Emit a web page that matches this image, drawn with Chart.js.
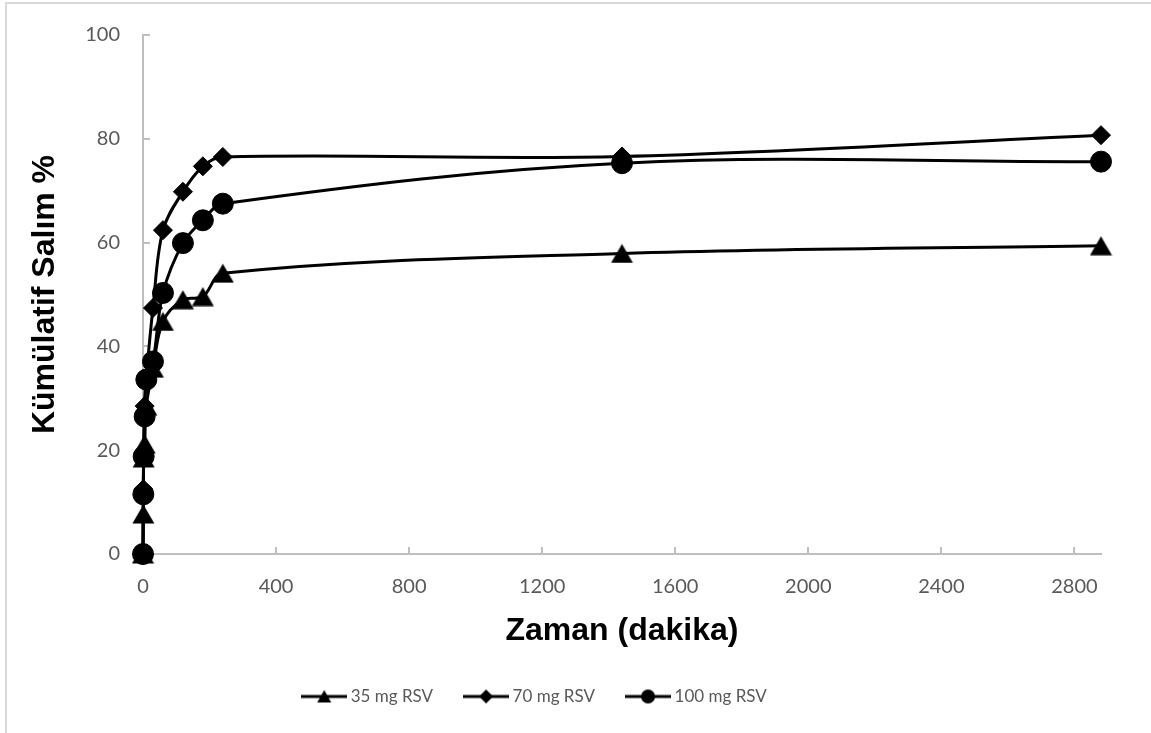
<!DOCTYPE html>
<html>
<head>
<meta charset="utf-8">
<script src="https://cdn.jsdelivr.net/npm/chart.js@4/dist/chart.umd.min.js"></script>
<style>
html,body{margin:0;padding:0;background:#fff;overflow:hidden}
#wrap{position:relative;width:1151px;height:733px}
</style>
</head>
<body>
<div id="wrap"><canvas id="c" width="1151" height="733"></canvas></div>
<script>
// ---- data ----
const times  = [0, 1, 2, 5, 10, 30, 60, 120, 180, 240, 1440, 2880];
const rsv35  = [0, 7.7, 18.5, 21.2, 28.5, 35.8, 44.8, 49.0, 49.6, 54.1, 57.9, 59.4];
const rsv70  = [0, 12.5, 19.5, 28.5, 34.0, 47.4, 62.4, 69.8, 74.7, 76.5, 76.6, 80.7];
const rsv100 = [0, 11.5, 18.8, 26.5, 33.6, 37.1, 50.3, 59.9, 64.3, 67.5, 75.3, 75.6];
const seriesNames = ['35 mg RSV', '70 mg RSV', '100 mg RSV'];
const xTickValues = [0, 400, 800, 1200, 1600, 2000, 2400, 2800];
const yTickValues = [0, 20, 40, 60, 80, 100];
const xTitle = 'Zaman (dakika)';
const yTitle = 'Kümülatif Salım %';
const xRange = [0, 2880];
const yRange = [0, 100];

const tickFont = "Lato";
const titleFont = "'Liberation Sans', Arial, sans-serif";
const gray = '#595959';
const axisGray = '#bfbfbf';

function pts(ys){ return times.map((t,i)=>({x:t, y:ys[i]})); }

// triangle marker centred in its box (like Excel)
function triCanvas(w, h){
  const c = document.createElement('canvas');
  c.width = w; c.height = h;
  const g = c.getContext('2d');
  g.fillStyle = '#000';
  g.beginPath();
  g.moveTo(w/2, 0.5); g.lineTo(w-0.5, h-0.5); g.lineTo(0.5, h-0.5); g.closePath();
  g.fill();
  return c;
}
const triMarker = triCanvas(23, 20);

function legendIcon(kind){
  const W = 46, H = 16;
  const c = document.createElement('canvas');
  c.width = W; c.height = H;
  const g = c.getContext('2d');
  g.strokeStyle = '#000'; g.fillStyle = '#000'; g.lineWidth = 3;
  g.beginPath(); g.moveTo(0, H/2); g.lineTo(W, H/2); g.stroke();
  const cx = W/2, cy = H/2;
  g.beginPath();
  if (kind === 'tri'){
    g.moveTo(cx, cy-6.5); g.lineTo(cx+7, cy+6); g.lineTo(cx-7, cy+6); g.closePath();
  } else if (kind === 'dia'){
    g.moveTo(cx, cy-7); g.lineTo(cx+7, cy); g.lineTo(cx, cy+7); g.lineTo(cx-7, cy); g.closePath();
  } else {
    g.arc(cx, cy, 7, 0, Math.PI*2);
  }
  g.fill();
  return c;
}
const legendIcons = [legendIcon('tri'), legendIcon('dia'), legendIcon('circ')];

const frame = {
  id: 'frame',
  beforeDraw(chart){
    const ctx = chart.ctx;
    ctx.save();
    ctx.fillStyle = '#fff';
    ctx.fillRect(0, 0, chart.width, chart.height);
    ctx.fillStyle = '#d9d9d9';
    ctx.fillRect(5, 2, chart.width - 5, 2);
    ctx.fillRect(5, 2, 2, chart.height - 2);
    ctx.restore();
  },
  afterLayout(chart){
    const d = -17;
    chart.legend.left += d; chart.legend.right += d;
  },
  beforeDatasetsDraw(chart){
    const {ctx, chartArea: a, scales: {x, y}} = chart;
    ctx.save();
    ctx.strokeStyle = axisGray; ctx.lineWidth = 2;
    ctx.beginPath();
    y.ticks.forEach(t => {
      if (t.value === yRange[0]) return;
      const py = Math.round(y.getPixelForValue(t.value));
      ctx.moveTo(a.left, py); ctx.lineTo(a.left + 7, py);
    });
    x.ticks.forEach(t => {
      if (t.value === xRange[0]) return;
      const px = Math.round(x.getPixelForValue(t.value));
      ctx.moveTo(px, a.bottom); ctx.lineTo(px, a.bottom - 7);
    });
    ctx.stroke();
    ctx.restore();
  }
};

const common = {
  borderColor: '#000', backgroundColor: '#000', borderWidth: 3,
  pointBorderColor: '#000', pointBackgroundColor: '#000', pointBorderWidth: 1,
  tension: 0.35, clip: false, fill: false
};

new Chart(document.getElementById('c'), {
  type: 'line',
  data: {
    datasets: [
      Object.assign({}, common, {label: seriesNames[0], data: pts(rsv35), pointStyle: triMarker, order: 3}),
      Object.assign({}, common, {label: seriesNames[1], data: pts(rsv70), pointStyle: 'rectRot', pointRadius: 9.5, order: 2}),
      Object.assign({}, common, {label: seriesNames[2], data: pts(rsv100), pointStyle: 'circle', pointRadius: 10.5, order: 1})
    ]
  },
  options: {
    responsive: false,
    animation: false,
    devicePixelRatio: 1,
    layout: {padding: {left: 6, top: 33, right: 50, bottom: 18}},
    plugins: {
      tooltip: {enabled: false},
      legend: {
        position: 'bottom',
        labels: {
          usePointStyle: true,
          pointStyleWidth: 36,
          padding: 35,
          color: gray,
          font: {family: tickFont, size: 17},
          generateLabels: chart => seriesNames.map((n, i) => ({
            text: n, pointStyle: legendIcons[i], datasetIndex: i,
            fillStyle: '#000', strokeStyle: '#000', lineWidth: 0, hidden: false, fontColor: gray
          }))
        }
      }
    },
    scales: {
      x: {
        type: 'linear', min: xRange[0], max: xRange[1],
        afterFit: s => { s.height = 99; },
        afterBuildTicks: s => { s.ticks = xTickValues.map(v => ({value: v})); },
        grid: {drawOnChartArea: false, drawTicks: false},
        border: {color: axisGray, width: 2},
        ticks: {padding: 21, color: gray, font: {family: tickFont, size: 20}, maxRotation: 0, autoSkip: false, callback: v => String(v)},
        title: {display: true, text: xTitle, color: '#000', font: {family: titleFont, size: 32, weight: 'bold'}, padding: {top: 0, bottom: 3}}
      },
      y: {
        type: 'linear', min: yRange[0], max: yRange[1],
        afterFit: s => { s.width = 137; },
        afterBuildTicks: s => { s.ticks = yTickValues.map(v => ({value: v})); },
        grid: {drawOnChartArea: false, drawTicks: false},
        border: {color: axisGray, width: 2},
        ticks: {padding: 23, color: gray, font: {family: tickFont, size: 20}, autoSkip: false, callback: v => String(v)},
        title: {display: true, text: yTitle, color: '#000', font: {family: titleFont, size: 32, weight: 'bold'}, padding: {top: 20, bottom: 0}}
      }
    }
  },
  plugins: [frame]
});
</script>
</body>
</html>
